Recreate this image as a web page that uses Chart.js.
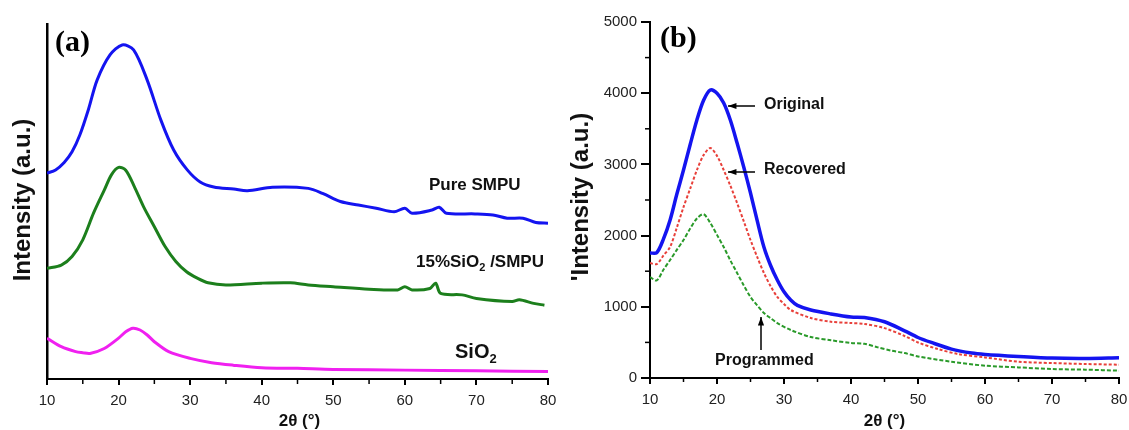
<!DOCTYPE html>
<html>
<head>
<meta charset="utf-8">
<script src="https://cdn.jsdelivr.net/npm/chart.js@4.4.1/dist/chart.umd.min.js"></script>
<style>
  body { margin: 0; background: #fff; overflow: hidden; }
  #wrap { position: relative; width: 1129px; height: 430px; }
  canvas { position: absolute; top: 0; }
</style>
</head>
<body>
<div id="wrap">
  <canvas id="chartA" width="560" height="430" style="left:0"></canvas>
  <canvas id="chartB" width="564" height="430" style="left:565px"></canvas>
</div>
<script>
// ---- panel (a): XRD patterns, arbitrary intensity ----
const aPureX = [10, 11.2, 12.4, 13.5, 14.6, 15.8, 17, 18.8, 20.5, 22.1, 24, 25.9, 27.7, 29.6, 31.4, 33.3, 36.1, 38, 41.5, 46.5, 48.5, 51, 53.5, 56, 58.5, 60, 61, 63.8, 64.8, 65.8, 69.8, 72.3, 74.3, 76.5, 78.3, 80];
const aPure = [580, 589, 610, 640, 688, 760, 842, 913, 941, 927, 842, 730, 645, 589, 555, 541, 535, 530, 540, 537, 523, 500, 490, 481, 471, 481, 467, 476, 484, 467, 465, 462, 453, 453, 441, 439];

const aCompX = [10, 12, 13.5, 15, 16.5, 18, 19, 20, 21, 22.2, 23.5, 25, 26.5, 28, 29.5, 31, 32.5, 35, 40, 44, 46.5, 50, 55, 59, 60, 61, 63.5, 64.3, 65, 68, 70, 75, 76, 78, 79.5];
const aComp = [312, 321, 345, 392, 467, 532, 575, 596, 588, 542, 485, 429, 373, 331, 302, 284, 271, 265, 270, 271, 265, 260, 253, 251, 260, 251, 255, 270, 241, 237, 227, 218, 223, 213, 208];

const aSilicaX = [10, 12, 14, 15, 16, 18, 20, 21, 22, 23, 24, 25, 27, 30, 33, 36, 40, 45, 50, 60, 70, 80];
const aSilica = [115, 91, 77, 74, 72, 86, 115, 133, 143, 138, 124, 105, 77, 58, 46, 39, 32, 30, 27, 25, 23, 21];

// ---- panel (b): intensity counts ----
const bOrigX = [10, 11, 12, 13, 14, 15, 16, 17, 18, 19, 20, 21, 22, 23, 24, 25, 26, 27, 28, 29, 30, 31, 32, 34, 37, 40, 42, 45, 48, 50, 52, 55, 58, 60, 65, 70, 75, 80];
const bOrig = [1756, 1760, 1950, 2219, 2580, 2921, 3280, 3624, 3900, 4045, 4000, 3862, 3620, 3300, 2960, 2598, 2210, 1840, 1580, 1376, 1210, 1095, 1020, 955, 900, 857, 850, 790, 662, 569, 499, 406, 350, 331, 303, 280, 275, 285];

const bRecX = [10, 11, 12, 13, 14, 15, 16, 17, 18, 19, 20, 21, 22, 23, 24, 25, 26, 27, 28, 29, 30, 31, 34, 37, 40, 42, 45, 48, 50, 53, 56, 60, 65, 70, 75, 80];
const bRec = [1615, 1600, 1720, 1840, 2110, 2400, 2660, 2921, 3130, 3230, 3120, 2921, 2700, 2458, 2200, 1938, 1700, 1475, 1290, 1138, 1040, 955, 843, 790, 772, 760, 700, 590, 499, 406, 336, 289, 229, 210, 196, 187];

const bProgX = [10, 11, 12, 13, 14, 15, 16, 17, 18, 19, 20, 21, 22, 23, 24, 25, 26, 27, 28, 29, 31, 34, 37, 40, 42, 44, 46, 48, 50, 55, 60, 65, 70, 75, 80];
const bProg = [1418, 1370, 1520, 1657, 1800, 1938, 2100, 2240, 2300, 2177, 2010, 1840, 1650, 1475, 1300, 1138, 1020, 913, 840, 772, 674, 576, 530, 491, 480, 430, 385, 350, 303, 229, 173, 149, 126, 117, 103];

const SANS = '"Liberation Sans", Arial, sans-serif';
const SERIF = '"Liberation Serif", "Times New Roman", serif';

const pts = (xs, ys) => xs.map((x, i) => ({ x: x, y: ys[i] }));

function line(data, color, width, dash) {
    return {
        data: data,
        borderColor: color,
        borderWidth: width,
        borderDash: dash || [],
        pointRadius: 0,
        tension: 0.3,
        fill: false
    };
}

function xAxis(h) {
    return {
        type: 'linear', min: 10, max: 80,
        ticks: { stepSize: 10, color: '#222', padding: 7, maxRotation: 0, autoSkip: false, font: { family: SANS, size: 15 }, callback: v => String(v) },
        grid: { display: true, drawOnChartArea: false, drawTicks: true, tickLength: 6, color: '#000', lineWidth: 2 },
        border: { display: true, color: '#000', width: 2 },
        afterFit: s => { s.height = h; s.paddingLeft = 0; s.paddingRight = 0; }
    };
}

// short ticks between the labelled ones
function minorX(ctx, x, len) {
    ctx.save();
    ctx.strokeStyle = '#000';
    ctx.lineWidth = 1.5;
    for (let v = 15; v < 80; v += 10) {
        const px = x.getPixelForValue(v);
        ctx.beginPath();
        ctx.moveTo(px, x.top);
        ctx.lineTo(px, x.top + len);
        ctx.stroke();
    }
    ctx.restore();
}

function arrow(ctx, x1, y1, x2, y2) {
    // from (x1,y1) to head at (x2,y2)
    const a = Math.atan2(y2 - y1, x2 - x1);
    ctx.beginPath();
    ctx.moveTo(x1, y1);
    ctx.lineTo(x2, y2);
    ctx.stroke();
    ctx.beginPath();
    ctx.moveTo(x2, y2);
    ctx.lineTo(x2 - 9 * Math.cos(a - 0.35), y2 - 9 * Math.sin(a - 0.35));
    ctx.lineTo(x2 - 9 * Math.cos(a + 0.35), y2 - 9 * Math.sin(a + 0.35));
    ctx.closePath();
    ctx.fill();
}

function subText(ctx, x, y, parts, size) {
    // parts: [text, isSub]
    let cx = x;
    parts.forEach(p => {
        ctx.font = 'bold ' + (p[1] ? Math.round(size * 0.65) : size) + 'px ' + SANS;
        ctx.fillText(p[0], cx, p[1] ? y + size * 0.35 : y);
        cx += ctx.measureText(p[0]).width;
    });
}

const decorA = {
    id: 'decorA',
    afterDraw(chart) {
        const { ctx, scales: { x } } = chart;
        minorX(ctx, x, 5);
        ctx.save();
        ctx.fillStyle = '#111';
        ctx.textBaseline = 'middle';

        ctx.save();
        ctx.translate(23, 200);
        ctx.rotate(-Math.PI / 2);
        ctx.textAlign = 'center';
        ctx.font = 'bold 24px ' + SANS;
        ctx.fillText('Intensity (a.u.)', 0, 0);
        ctx.restore();

        ctx.textAlign = 'center';
        ctx.font = 'bold 17px ' + SANS;
        ctx.fillText('2θ (°)', (x.left + x.right) / 2 + 2, 421);

        ctx.textAlign = 'left';
        ctx.font = 'bold 17px ' + SANS;
        ctx.fillText('Pure SMPU', 429, 185);
        subText(ctx, 416, 262, [['15%SiO', false], ['2', true], [' /SMPU', false]], 17);
        subText(ctx, 455, 352, [['SiO', false], ['2', true]], 20);

        ctx.textBaseline = 'alphabetic';
        ctx.font = 'bold 30px ' + SERIF;
        ctx.fillStyle = '#000';
        ctx.fillText('(a)', 55, 51);
        ctx.restore();
    }
};

const decorB = {
    id: 'decorB',
    afterDraw(chart) {
        const { ctx, scales: { x, y } } = chart;
        minorX(ctx, x, 4);
        ctx.save();
        ctx.strokeStyle = '#000';
        ctx.lineWidth = 1.5;
        for (let v = 500; v < 5000; v += 1000) {
            const py = y.getPixelForValue(v);
            ctx.beginPath();
            ctx.moveTo(y.right - 5, py);
            ctx.lineTo(y.right, py);
            ctx.stroke();
        }

        ctx.fillStyle = '#111';
        ctx.textBaseline = 'middle';
        ctx.save();
        ctx.translate(16, 197);
        ctx.rotate(-Math.PI / 2);
        ctx.textAlign = 'center';
        ctx.font = 'bold 24px ' + SANS;
        ctx.fillText('\'Intensity (a.u.)', 0, 0);
        ctx.restore();

        ctx.textAlign = 'center';
        ctx.font = 'bold 17px ' + SANS;
        ctx.fillText('2θ (°)', (x.left + x.right) / 2, 421);

        ctx.textAlign = 'left';
        ctx.font = 'bold 16px ' + SANS;
        ctx.fillText('Original', 199, 105);
        ctx.fillText('Recovered', 199, 170);
        ctx.fillText('Programmed', 150, 361);

        ctx.fillStyle = '#000';
        ctx.lineWidth = 1.5;
        arrow(ctx, 190, 106, 163, 106);
        arrow(ctx, 190, 172, 163, 172);
        arrow(ctx, 196, 350, 196, 317);

        ctx.textBaseline = 'alphabetic';
        ctx.font = 'bold 30px ' + SERIF;
        ctx.fillText('(b)', 95, 47);
        ctx.restore();
    }
};

new Chart(document.getElementById('chartA'), {
    type: 'line',
    data: {
        datasets: [
            line(pts(aPureX, aPure), '#1414f0', 3),
            line(pts(aCompX, aComp), '#1c7f1c', 3),
            line(pts(aSilicaX, aSilica), '#f020f0', 3)
        ]
    },
    options: {
        responsive: false,
        animation: false,
        layout: { padding: { left: 0, right: 12, top: 24, bottom: 0 } },
        plugins: { legend: { display: false }, tooltip: { enabled: false } },
        scales: {
            x: xAxis(51),
            y: {
                min: 0, max: 1000,
                ticks: { display: false },
                grid: { display: false },
                border: { display: true, color: '#000', width: 2.5 },
                afterFit: s => { s.width = 47; }
            }
        }
    },
    plugins: [decorA]
});

new Chart(document.getElementById('chartB'), {
    type: 'line',
    data: {
        datasets: [
            line(pts(bProgX, bProg), '#2a9a2a', 2, [4, 2]),
            line(pts(bRecX, bRec), '#e8403a', 2, [3, 2]),
            line(pts(bOrigX, bOrig), '#1414f0', 3.5)
        ]
    },
    options: {
        responsive: false,
        animation: false,
        layout: { padding: { left: 0, right: 10, top: 22, bottom: 0 } },
        plugins: { legend: { display: false }, tooltip: { enabled: false } },
        scales: {
            x: xAxis(52),
            y: {
                min: 0, max: 5000,
                ticks: { stepSize: 1000, color: '#222', padding: 4, font: { family: SANS, size: 15 }, callback: v => String(v) },
                grid: { display: true, drawOnChartArea: false, drawTicks: true, tickLength: 9, color: '#000', lineWidth: 2 },
                border: { display: true, color: '#000', width: 2 },
                afterFit: s => { s.width = 85; }
            }
        }
    },
    plugins: [decorB]
});
</script>
</body>
</html>
